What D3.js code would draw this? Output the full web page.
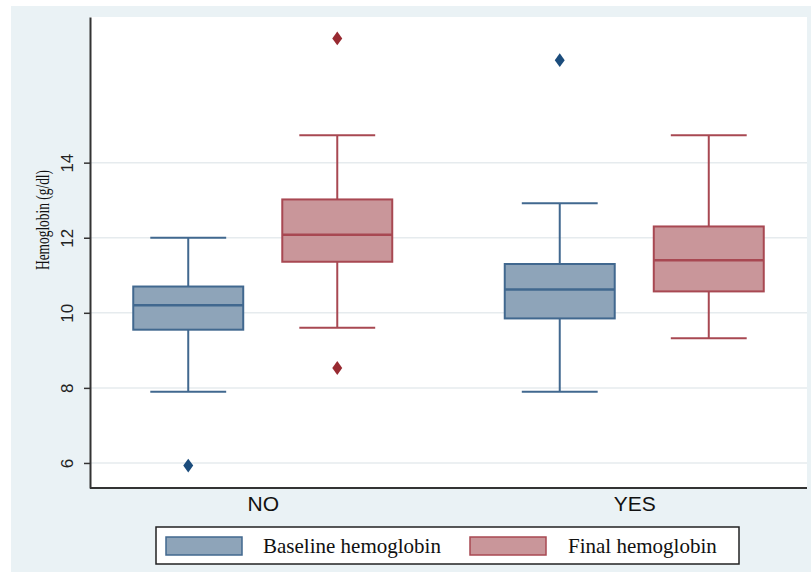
<!DOCTYPE html>
<html>
<head>
<meta charset="utf-8">
<script src="https://cdn.jsdelivr.net/npm/d3@7"></script>
<style>
  body { margin: 0; background: #ffffff; }
  svg { display: block; }
</style>
</head>
<body>
<div id="container"></div>
<script>
// groups on the x axis and the two series in each group
var groups = ["NO", "YES"];
var seriesNames = ["Baseline hemoglobin", "Final hemoglobin"];

// [lower whisker, q1, median, q3, upper whisker] per group
var baselineStats = [
  [7.9, 9.55, 10.2, 10.7, 12.0],
  [7.9, 9.85, 10.62, 11.3, 12.92]
];
var finalStats = [
  [9.6, 11.36, 12.08, 13.02, 14.73],
  [9.32, 10.57, 11.4, 12.3, 14.73]
];
var baselineOutliers = [[5.93], [16.73]];
var finalOutliers = [[8.53, 17.31], []];

var yTicks = [6, 8, 10, 12, 14];

var width = 811, height = 573;
var plot = { left: 90, right: 807, top: 17, bottom: 488 };

var colors = {
  "Baseline hemoglobin": { fill: "#8ea4b9", stroke: "#41688f", dot: "#1b4c7c" },
  "Final hemoglobin": { fill: "#c9969a", stroke: "#a84852", dot: "#982a31" }
};

var svg = d3.select("#container")
  .append("svg")
  .attr("width", width)
  .attr("height", height);

// outer background
svg.append("rect")
  .attr("x", 11).attr("y", 6)
  .attr("width", width - 11).attr("height", 566)
  .attr("fill", "#eaf2f5");

// plot area
svg.append("rect")
  .attr("x", plot.left).attr("y", plot.top)
  .attr("width", plot.right - plot.left).attr("height", plot.bottom - plot.top)
  .attr("fill", "#ffffff");

var y = d3.scaleLinear()
  .domain([5.333, 17.88])
  .range([plot.bottom, plot.top]);

var x = d3.scalePoint()
  .domain(groups)
  .range([plot.left, plot.right])
  .padding(0.465);

var xInner = d3.scaleBand()
  .domain(seriesNames)
  .range([-129.5, 129.5])
  .paddingInner(0.262)
  .paddingOuter(0);

// gridlines
svg.append("g")
  .selectAll("line")
  .data(yTicks)
  .enter()
  .append("line")
  .attr("x1", plot.left).attr("x2", plot.right)
  .attr("y1", d => y(d)).attr("y2", d => y(d))
  .attr("stroke", "#e6ebee")
  .attr("stroke-width", 1.5);

// build the box table from the arrays
var boxes = [];
groups.forEach(function(g, i) {
  boxes.push({ group: g, series: seriesNames[0], s: baselineStats[i], out: baselineOutliers[i] });
  boxes.push({ group: g, series: seriesNames[1], s: finalStats[i], out: finalOutliers[i] });
});

var bw = xInner.bandwidth();
var capW = bw * 0.69;

var box = svg.append("g")
  .selectAll("g")
  .data(boxes)
  .enter()
  .append("g")
  .attr("transform", d => "translate(" + (x(d.group) + xInner(d.series) + bw / 2) + ",0)");

// whiskers
box.append("line")
  .attr("x1", 0).attr("x2", 0)
  .attr("y1", d => y(d.s[0])).attr("y2", d => y(d.s[1]))
  .attr("stroke", d => colors[d.series].stroke).attr("stroke-width", 2);
box.append("line")
  .attr("x1", 0).attr("x2", 0)
  .attr("y1", d => y(d.s[3])).attr("y2", d => y(d.s[4]))
  .attr("stroke", d => colors[d.series].stroke).attr("stroke-width", 2);

// caps
[0, 4].forEach(function(k) {
  box.append("line")
    .attr("x1", -capW / 2).attr("x2", capW / 2)
    .attr("y1", d => y(d.s[k])).attr("y2", d => y(d.s[k]))
    .attr("stroke", d => colors[d.series].stroke).attr("stroke-width", 2);
});

// box
box.append("rect")
  .attr("x", -bw / 2)
  .attr("width", bw)
  .attr("y", d => y(d.s[3]))
  .attr("height", d => y(d.s[1]) - y(d.s[3]))
  .attr("fill", d => colors[d.series].fill)
  .attr("stroke", d => colors[d.series].stroke)
  .attr("stroke-width", 2);

// median
box.append("line")
  .attr("x1", -bw / 2).attr("x2", bw / 2)
  .attr("y1", d => y(d.s[2])).attr("y2", d => y(d.s[2]))
  .attr("stroke", d => colors[d.series].stroke).attr("stroke-width", 2.5);

// outliers
var diamond = d3.symbol().type(d3.symbolDiamond).size(55);
box.each(function(d) {
  d3.select(this).selectAll("path.out")
    .data(d.out)
    .enter()
    .append("path")
    .attr("class", "out")
    .attr("d", diamond)
    .attr("transform", v => "translate(0," + y(v) + ") scale(1.25,1)")
    .attr("fill", colors[d.series].dot);
});

// y axis
var yAxis = svg.append("g")
  .attr("transform", "translate(" + plot.left + ",0)")
  .call(d3.axisLeft(y).tickValues(yTicks).tickSize(6).tickPadding(8).tickSizeOuter(0));
yAxis.select(".domain").attr("stroke", "#333").attr("stroke-width", 2);
yAxis.selectAll(".tick line").attr("stroke", "#333").attr("stroke-width", 1.5);
yAxis.selectAll(".tick text")
  .attr("font-family", "Liberation Sans, Arial, sans-serif")
  .attr("font-size", 17)
  .attr("fill", "#222")
  .attr("text-anchor", "middle")
  .attr("x", -23)
  .attr("y", 0)
  .attr("dy", "0.35em")
  .attr("transform", "rotate(-90,-23,0)");

// y title
svg.append("text")
  .attr("transform", "translate(49,220) rotate(-90)")
  .attr("text-anchor", "middle")
  .attr("font-family", "Liberation Serif, Times New Roman, serif")
  .attr("font-size", 19)
  .attr("textLength", 100)
  .attr("lengthAdjust", "spacingAndGlyphs")
  .attr("fill", "#111")
  .text("Hemoglobin (g/dl)");

// x axis
var xAxis = svg.append("g")
  .attr("transform", "translate(0," + plot.bottom + ")")
  .call(d3.axisBottom(x).tickSize(0).tickPadding(8).tickSizeOuter(0));
xAxis.select(".domain").attr("stroke", "#333").attr("stroke-width", 2)
  .attr("d", "M" + plot.left + ",0H" + plot.right);
xAxis.selectAll(".tick text")
  .attr("font-family", "Liberation Sans, Arial, sans-serif")
  .attr("font-size", 21)
  .attr("fill", "#111");

// legend
var legend = svg.append("g");
legend.append("rect")
  .attr("x", 156).attr("y", 527)
  .attr("width", 583).attr("height", 37)
  .attr("fill", "#ffffff")
  .attr("stroke", "#222")
  .attr("stroke-width", 1.5);

var legendX = [166, 470];
var item = legend.selectAll("g.item")
  .data(seriesNames)
  .enter()
  .append("g")
  .attr("class", "item")
  .attr("transform", (d, i) => "translate(" + legendX[i] + ",537)");
item.append("rect")
  .attr("width", 76).attr("height", 18)
  .attr("fill", d => colors[d].fill)
  .attr("stroke", d => colors[d].stroke)
  .attr("stroke-width", 1.5);
item.append("text")
  .attr("x", (d, i) => i === 0 ? 97 : 98)
  .attr("y", 16)
  .attr("font-family", "Liberation Serif, Times New Roman, serif")
  .attr("font-size", 21)
  .attr("fill", "#111")
  .text(d => d);
</script>
</body>
</html>
